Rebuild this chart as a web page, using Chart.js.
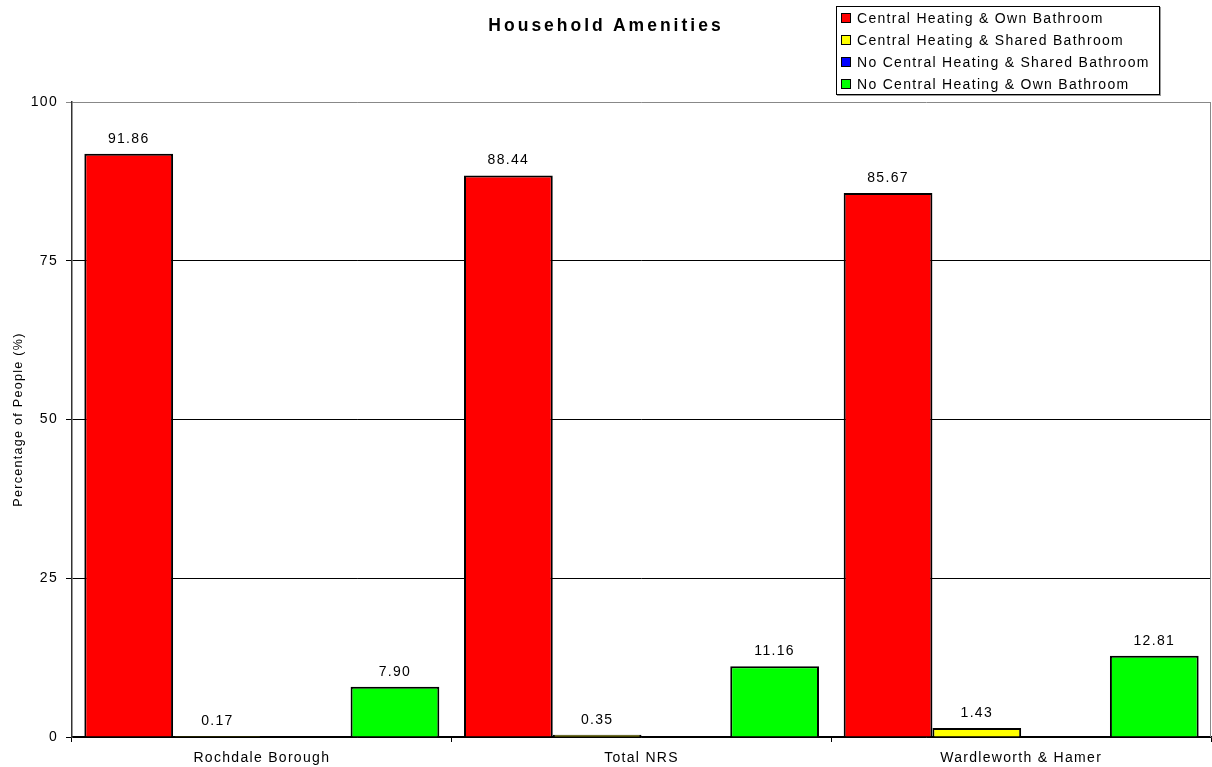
<!DOCTYPE html>
<html>
<head>
<meta charset="utf-8">
<title>Household Amenities</title>
<script src="https://cdn.jsdelivr.net/npm/chart.js@4.4.1/dist/chart.umd.min.js"></script>
<style>
  body { margin: 0; background: #fff; font-family: "Liberation Sans", Arial, sans-serif; }
  #wrap { position: relative; width: 1212px; height: 767px; }
  #title { position: absolute; left: 0; top: 15px; width: 1212px; text-align: center; font-weight: bold; font-size: 17.5px; letter-spacing: 3px; color: #000; }
  #legend { position: absolute; left: 836px; top: 6px; width: 322px; height: 87px; border: 1px solid #000; box-shadow: 1px 1px 0 #999; background: #fff; }
  .item { position: absolute; left: 4px; height: 22px; line-height: 22px; font-size: 14px; letter-spacing: 1.3px; color: #000; white-space: nowrap; }
  .sw { display: inline-block; width: 8px; height: 8px; border: 1px solid #000; margin-right: 6px; vertical-align: middle; position: relative; top: -1px; }
</style>
</head>
<body>
<div id="wrap">
  <canvas id="chart"></canvas>
  <div id="title">Household Amenities</div>
  <div id="legend"></div>
</div>
<script>
// categories and series
const categories = ['Rochdale Borough', 'Total NRS', 'Wardleworth & Hamer'];
const seriesNames = [
  'Central Heating & Own Bathroom',
  'Central Heating & Shared Bathroom',
  'No Central Heating & Shared Bathroom',
  'No Central Heating & Own Bathroom'
];
const heatingOwnBath = [91.86, 88.44, 85.67];
const heatingSharedBath = [0.17, 0.35, 1.43];
const noHeatingSharedBath = [0, 0, 0];
const noHeatingOwnBath = [7.90, 11.16, 12.81];
const yTicks = [0, 25, 50, 75, 100];

const colours = ['#ff0000', '#ffff00', '#0000ff', '#00ff00'];
const seriesValues = [heatingOwnBath, heatingSharedBath, noHeatingSharedBath, noHeatingOwnBath];
const FONT = '"Liberation Sans", Arial, sans-serif';

// html legend
const legend = document.getElementById('legend');
legend.innerHTML = seriesNames.map((name, i) =>
  `<div class="item" style="top:${i * 22}px"><span class="sw" style="background:${colours[i]}"></span>${name}</div>`
).join('');

// letter spacing like the original export
const spacing = {
  id: 'spacing',
  beforeDraw(chart) { chart.ctx.letterSpacing = '1.3px'; }
};

// value labels above the bars + grey frame on the right
const barLabels = {
  id: 'barLabels',
  afterDatasetsDraw(chart) {
    const ctx = chart.ctx;
    const area = chart.chartArea;
    ctx.save();
    ctx.strokeStyle = '#888';
    ctx.lineWidth = 1;
    ctx.beginPath();
    ctx.moveTo(area.right - 0.5, area.top);
    ctx.lineTo(area.right - 0.5, area.bottom);
    ctx.stroke();
    ctx.font = '14px ' + FONT;
    ctx.fillStyle = '#000';
    ctx.textAlign = 'center';
    ctx.textBaseline = 'alphabetic';
    chart.data.datasets.forEach((ds, i) => {
      chart.getDatasetMeta(i).data.forEach((bar, j) => {
        const v = ds.data[j];
        if (v > 0) ctx.fillText(v.toFixed(2), bar.x, bar.y - 11);
      });
    });
    ctx.restore();
  }
};

new Chart(document.getElementById('chart'), {
  type: 'bar',
  data: {
    labels: categories,
    datasets: seriesNames.map((name, i) => ({
      label: name,
      data: seriesValues[i],
      backgroundColor: colours[i],
      borderColor: '#000',
      borderWidth: 2,
      categoryPercentage: 0.935,
      barPercentage: 1
    }))
  },
  options: {
    responsive: true,
    maintainAspectRatio: false,
    animation: false,
    layout: { padding: { top: 102, right: 1, left: 0, bottom: 0 } },
    plugins: { legend: { display: false }, title: { display: false }, tooltip: { enabled: false } },
    scales: {
      x: {
        grid: { offset: true, drawOnChartArea: false, drawTicks: true, tickLength: 5, color: '#000' },
        border: { color: '#000', width: 1.5 },
        ticks: { color: '#000', font: { family: FONT, size: 14 }, padding: 8, maxRotation: 0 },
        afterFit: s => { s.height = 30; }
      },
      y: {
        min: 0,
        max: 100,
        afterBuildTicks: s => { s.ticks = yTicks.map(v => ({ value: v })); },
        grid: { color: c => c.tick && c.tick.value === 100 ? '#888' : '#000', tickLength: 6, lineWidth: 1 },
        border: { color: '#333', width: 1.5 },
        ticks: { color: '#000', font: { family: FONT, size: 14 }, padding: 8 },
        title: { display: true, text: 'Percentage of People (%)', color: '#000', font: { family: FONT, size: 12.5 }, padding: { top: 11, bottom: 0 } },
        afterFit: s => { s.width = 72; }
      }
    }
  },
  plugins: [spacing, barLabels]
});
</script>
</body>
</html>
